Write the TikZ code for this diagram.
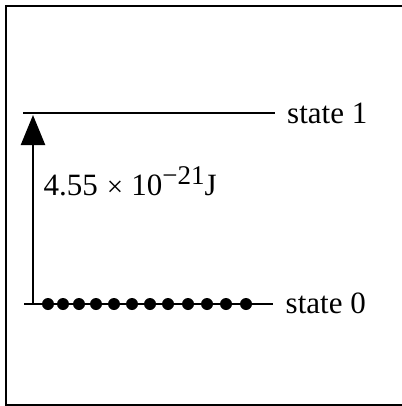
\documentclass[tikz,border=0pt]{standalone}
\usepackage{fontspec}
\setmainfont{Liberation Serif}
\usetikzlibrary{arrows.meta}
\begin{document}
\begin{tikzpicture}[x=1pt,y=-1pt,
  lvl/.style={line width=2.3pt},
  lab/.style={inner sep=0pt, font=\fontsize{31}{31}\selectfont},
  dot/.style={fill=black}]
\useasboundingbox (0,0) rectangle (401,406);
\draw[line width=2.3pt] (6,6) rectangle (403,405);
% levels
\coordinate (l1a) at (23,113);
\coordinate (l1b) at (275,113);
\coordinate (l0a) at (24,304);
\coordinate (l0b) at (273,304);
\draw[lvl] (l1a) -- (l1b);
\draw[lvl] (l0a) -- (l0b);
% arrow
\coordinate (a0) at (33,304);
\coordinate (a1) at (33,115);
\draw[lvl, -{Triangle[length=30pt,width=24pt]}] (a0) -- (a1);
% dots
\foreach \x in {48,63,79,96,114,132,150,168,188,207,226,246}
  \fill[dot] (\x,304) circle[radius=6pt];
% labels
\node[lab, anchor=base west] (st1) at (287,123.5) {state 1};
\node[lab, anchor=base west] (st0) at (285.5,313.5) {state 0};
\node[lab, anchor=base west] (en) at (43.5,195) {4.55\hspace{9pt}\raisebox{-1.5pt}{\fontsize{29}{29}\selectfont ×}\hspace{8pt}10\raisebox{11pt}{\fontsize{27}{27}\selectfont −21}J};
\end{tikzpicture}
\end{document}
